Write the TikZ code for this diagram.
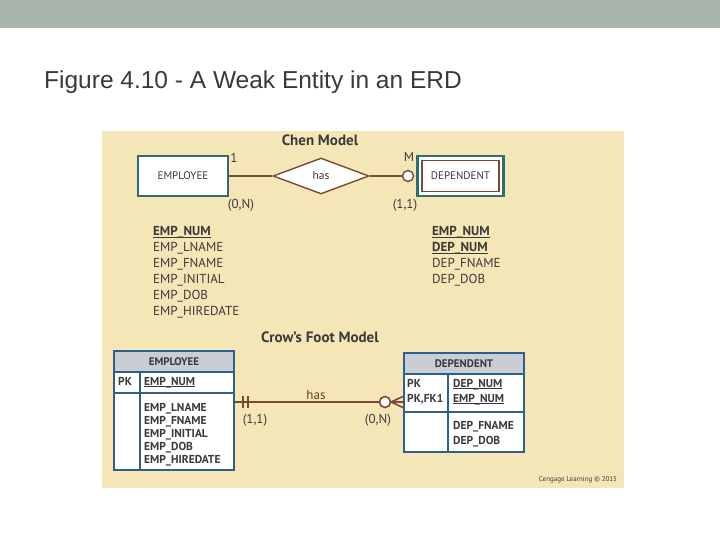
\documentclass[tikz,border=0pt]{standalone}
\usepackage{fontspec}
\setmainfont{PT Sans}
\newfontfamily\titlefont{Liberation Sans}
\usetikzlibrary{shapes.geometric}
\definecolor{panel}{HTML}{F5E6B8}
\definecolor{band}{HTML}{A7B5AB}
\definecolor{teal}{HTML}{2F6E6E}
\definecolor{brn}{HTML}{7A4A35}
\definecolor{tblue}{HTML}{2F5F8F}
\definecolor{hdr}{HTML}{C9CED4}
\definecolor{txt}{HTML}{3A3A3A}
\newcommand{\ul}[1]{\underline{\smash{#1}}}
\tikzset{
 attr/.style={anchor=west,font=\fontsize{13}{14}\selectfont,text=txt,inner sep=0pt,text height=9pt,text depth=2pt},
 cf/.style={anchor=west,font=\fontsize{11.5}{13}\selectfont\bfseries,text=txt,inner sep=0pt,text height=8pt,text depth=2pt},
 lab/.style={font=\fontsize{13}{14}\selectfont,text=txt,inner sep=0pt},
 hd/.style={font=\fontsize{15}{17}\selectfont\bfseries,text=txt},
 tb/.style={draw=tblue,line width=1.6pt},
 rel/.style={draw=brn,line width=1.6pt}
}
\begin{document}
\begin{tikzpicture}[x=1pt,y=-1pt]
\useasboundingbox (0,0) rectangle (720,540);
\fill[white] (0,0) rectangle (720,540);
\fill[band] (0,0) rectangle (720,28);
\node[anchor=west,font=\titlefont\fontsize{24.5}{28}\selectfont,text=txt,inner sep=0pt] (title) at (44,82) {Figure 4.10 - A Weak Entity in an ERD};
\fill[panel] (102,131) rectangle (624,488);
% Chen
\node[hd] (chen) at (320,140) {Chen Model};
\node[draw=teal,line width=2.2pt,fill=white,minimum width=90pt,minimum height=40pt,font=\fontsize{11}{13}\selectfont,text=txt] (emp) at (183,176) {EMPLOYEE};
\node[diamond,aspect=2.7,draw=brn,line width=1.4pt,fill=white,minimum width=96pt,minimum height=36pt,inner sep=0pt,font=\fontsize{11.5}{13}\selectfont,text=txt] (has) at (321,176) {has};
\node[draw=teal,line width=2.2pt,fill=white,minimum width=86pt,minimum height=40pt] (dep) at (460.5,176) {};
\node[draw=brn,line width=1.6pt,minimum width=77pt,minimum height=31pt,font=\fontsize{11}{13}\selectfont,text=txt] (depin) at (dep) {DEPENDENT};
\node[circle,draw=brn,line width=1.4pt,fill=white,minimum size=11pt,inner sep=0pt] (c1) at (408,176) {};
\draw[rel,line width=1.4pt] (emp) -- (has);
\draw[rel,line width=1.4pt] (has) -- (c1);
\node[lab] (l1) at (234,158) {1};
\node[lab] (lm) at (409,157) {M};
\node[lab] (l0n) at (241,205) {(0,N)};
\node[lab] (l11) at (405,205) {(1,1)};
\node[attr] (a1) at (153,232) {\ul{\textbf{EMP\_NUM}}};
\node[attr] (a2) at (153,248) {EMP\_LNAME};
\node[attr] (a3) at (153,264) {EMP\_FNAME};
\node[attr] (a4) at (153,280) {EMP\_INITIAL};
\node[attr] (a5) at (153,296) {EMP\_DOB};
\node[attr] (a6) at (153,312) {EMP\_HIREDATE};
\node[attr] (b1) at (432,232) {\ul{\textbf{EMP\_NUM}}};
\node[attr] (b2) at (432,248) {\ul{\textbf{DEP\_NUM}}};
\node[attr] (b3) at (432,264) {DEP\_FNAME};
\node[attr] (b4) at (432,280) {DEP\_DOB};
% Crow's foot
\node[hd] (crow) at (320,337) {Crow’s Foot Model};
\fill[white] (114,351) rectangle (234,470);
\fill[hdr] (114,351) rectangle (234,372);
\draw[tb] (114,351) rectangle (234,470);
\draw[tb] (114,372) -- (234,372) (114,393) -- (234,393) (140,372) -- (140,470);
\node[font=\fontsize{11}{13}\selectfont\bfseries,text=txt] (eh) at (174,361.5) {EMPLOYEE};
\node[cf] (epk) at (118,382) {PK};
\node[cf] (en) at (144,382) {\ul{EMP\_NUM}};
\node[cf] (e1) at (144,408) {EMP\_LNAME};
\node[cf] (e2) at (144,421) {EMP\_FNAME};
\node[cf] (e3) at (144,434) {EMP\_INITIAL};
\node[cf] (e4) at (144,447) {EMP\_DOB};
\node[cf] (e5) at (144,460) {EMP\_HIREDATE};
\fill[white] (404,353) rectangle (524,452);
\fill[hdr] (404,353) rectangle (524,374);
\draw[tb] (404,353) rectangle (524,452);
\draw[tb] (404,374) -- (524,374) (404,412) -- (524,412) (448,374) -- (448,452);
\node[font=\fontsize{11}{13}\selectfont\bfseries,text=txt] (dh) at (464,363.5) {DEPENDENT};
\node[cf] (dpk1) at (407,384) {PK};
\node[cf] (dpk2) at (407,399) {PK,FK1};
\node[cf] (dn1) at (453,384) {\ul{DEP\_NUM}};
\node[cf] (dn2) at (453,399) {\ul{EMP\_NUM}};
\node[cf] (d1) at (453,426) {DEP\_FNAME};
\node[cf] (d2) at (453,441) {DEP\_DOB};
\coordinate (ra) at (234,402);
\coordinate (rb) at (404,402);
\node[circle,draw=brn,line width=1.6pt,fill=white,minimum size=11pt,inner sep=0pt] (c2) at (385,402) {};
\draw[rel] (ra) -- (c2);
\draw[rel] (c2.east) -- (rb);
\draw[rel] (391,402) -- (404,396) (391,402) -- (404,408);
\draw[rel] (243,396) -- (243,408) (248,396) -- (248,408);
\node[lab,text=brn!80!black] (rh) at (316,395) {has};
\node[lab] (r11) at (255,420) {(1,1)};
\node[lab] (r0n) at (378,420) {(0,N)};
\node[font=\fontsize{7}{8}\selectfont,text=txt] (cg) at (578,480) {Cengage Learning © 2015};
\end{tikzpicture}
\end{document}
